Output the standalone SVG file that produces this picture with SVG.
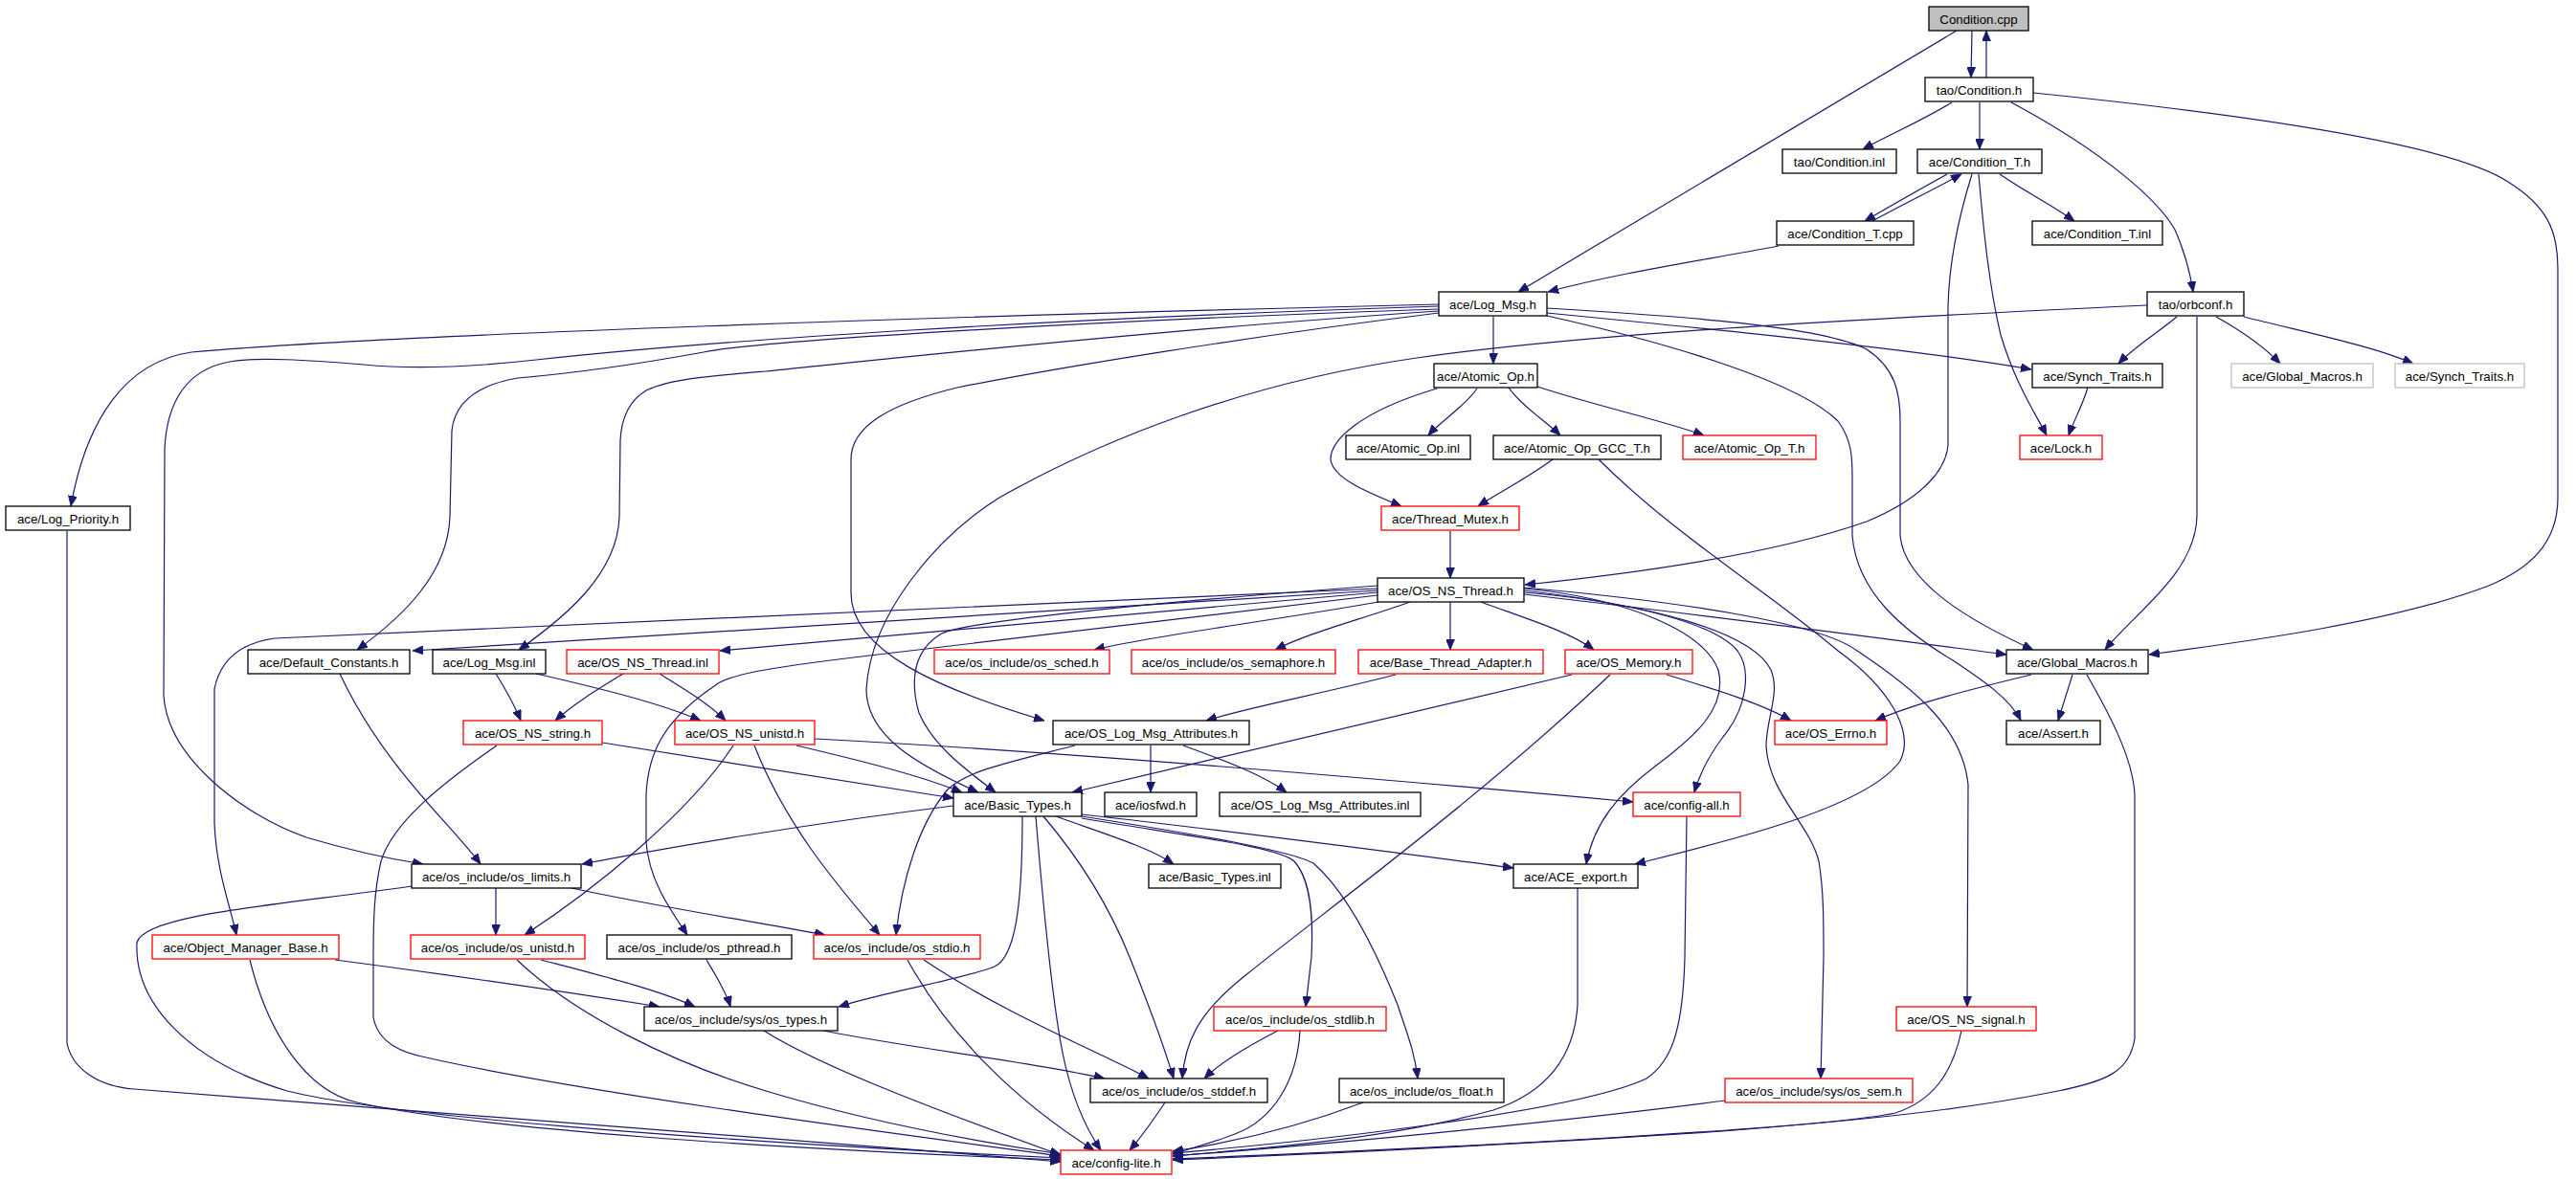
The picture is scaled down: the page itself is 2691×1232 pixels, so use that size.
<svg xmlns="http://www.w3.org/2000/svg" width="2691" height="1232" viewBox="0 0 2691 1232">
<style>
.nd rect{fill:#ffffff;stroke:#000000;stroke-width:1.3}
.nd.red rect{stroke:#ff0000}
.nd.grey rect{stroke:#bfbfbf}
.nd.root rect{fill:#bfbfbf}
.nd text{font-family:"Liberation Sans",Arial,sans-serif;font-size:13.3px;text-anchor:middle;fill:#000000}
#edges path{fill:none;stroke:#191970;stroke-width:1.2;marker-end:url(#ah)}
</style>
<defs>
<marker id="ah" markerUnits="userSpaceOnUse" markerWidth="11" markerHeight="9" refX="11" refY="4.5" orient="auto" viewBox="0 0 11 9">
<path d="M0,0 L11,4.5 L0,9 z" fill="#191970" stroke="#191970" stroke-width="0.8"/>
</marker>
</defs>
<rect x="0" y="0" width="2691" height="1232" fill="#ffffff"/>
<g id="edges">
<path d="M2060,32 L2059,81"/>
<path d="M2075,81 L2075,32"/>
<path d="M2044,32 L1586,305"/>
<path d="M2039,107 C2010,125 1975,140 1946,156"/>
<path d="M2068,107 L2068,156"/>
<path d="M2101,107 C2200,160 2255,210 2272,240 C2283,265 2288,285 2291,305"/>
<path d="M2124,97 C2350,120 2560,150 2620,190 C2660,215 2672,240 2672,280 L2672,520 C2672,570 2640,595 2600,612 C2500,650 2350,670 2245,684"/>
<path d="M2034,182 C2005,198 1975,215 1948,231"/>
<path d="M1956,231 C1985,215 2020,198 2049,182"/>
<path d="M2089,182 C2115,200 2145,215 2167,231"/>
<path d="M2067,182 C2072,240 2078,300 2090,350 C2105,400 2125,430 2138,455"/>
<path d="M2060,182 C2045,230 2036,280 2035,320 L2035,465 C2033,490 2010,520 1950,545 C1850,580 1700,600 1593,611"/>
<path d="M1858,257 C1780,272 1690,285 1617,305"/>
<path d="M2274,331 C2255,347 2230,362 2213,380"/>
<path d="M2315,331 C2340,345 2365,362 2382,380"/>
<path d="M2344,331 C2420,350 2480,362 2521,380"/>
<path d="M2295,331 L2295,540 C2293,600 2230,640 2199,679"/>
<path d="M2243,319 C1900,335 1650,350 1480,374 C1300,400 1150,460 1044,520 C980,560 910,640 905,720 C905,770 960,800 1022,828"/>
<path d="M1560,331 L1560,380"/>
<path d="M1616,327 C1800,345 2000,365 2122,386"/>
<path d="M1616,322 C1750,330 1900,340 1950,365 C1980,385 1985,410 1985,440 L1985,560 C1990,610 2060,650 2124,679"/>
<path d="M1616,330 C1750,360 1880,400 1920,440 C1935,460 1935,480 1935,500 L1935,560 C1940,620 1990,660 2040,690 C2070,710 2100,730 2111,753"/>
<path d="M1503,318 C1000,330 400,350 200,368 C130,378 90,440 74,529"/>
<path d="M1503,320 C1100,333 750,355 560,376 C480,385 420,385 380,381 C320,376 270,373 240,378 C195,386 174,420 172,470 L171,727 C175,790 250,850 320,875 C370,890 410,898 442,903"/>
<path d="M1503,323 C1150,335 800,355 735,368 C680,378 600,390 541,395 C500,402 475,420 472,450 L470,540 C468,600 420,645 373,679"/>
<path d="M1503,325 C1200,345 900,378 800,388 C740,393 700,396 675,408 C655,420 649,440 648,460 L647,540 C645,600 590,645 542,679"/>
<path d="M1503,327 C1300,352 1100,385 1000,405 C930,422 889,445 889,480 L889,620 C889,680 980,720 1091,753"/>
<path d="M1543,406 C1530,425 1505,440 1492,455"/>
<path d="M1576,405 C1590,425 1615,440 1630,455"/>
<path d="M1606,404 C1670,425 1740,440 1780,455"/>
<path d="M1501,406 C1420,430 1390,460 1390,480 C1392,500 1430,515 1464,529"/>
<path d="M1622,480 C1595,500 1565,515 1544,529"/>
<path d="M1670,480 C1750,560 1850,620 1920,680 C1975,720 2000,765 1985,795 C1950,845 1800,880 1708,903"/>
<path d="M1515,555 L1515,604"/>
<path d="M1440,629 C1320,650 1200,665 1143,679"/>
<path d="M1473,629 C1420,648 1370,660 1332,679"/>
<path d="M1515,629 L1515,679"/>
<path d="M1547,629 C1590,645 1640,660 1665,679"/>
<path d="M1592,621 C1800,645 1950,665 2096,684"/>
<path d="M1439,619 L752,680"/>
<path d="M1439,617 L431,680"/>
<path d="M1439,615 L287,667 C250,672 230,690 224,720 L224,860 C226,910 240,945 247,977"/>
<path d="M1439,622 L900,686 C800,698 760,705 746,717 C690,755 677,790 675,830 L675,880 C678,920 700,950 718,977"/>
<path d="M1439,612 C1200,630 1000,650 982,663 C955,680 950,710 960,745 C975,780 1010,805 1040,828"/>
<path d="M1592,617 C1700,630 1790,650 1815,680 C1830,700 1825,740 1800,770 C1785,790 1775,810 1770,828"/>
<path d="M1592,615 C1700,625 1780,660 1795,700 C1805,740 1770,770 1730,800 C1690,830 1665,860 1657,903"/>
<path d="M1592,619 C1720,630 1830,660 1850,700 C1860,725 1845,750 1845,780 C1848,830 1890,860 1900,900 C1905,930 1905,960 1905,1000 L1902,1127"/>
<path d="M1592,614 C1750,628 1900,650 1940,680 C2000,720 2050,760 2056,820 L2055,1052"/>
<path d="M1741,705 C1790,720 1840,735 1871,753"/>
<path d="M1642,705 C1500,740 1300,785 1120,828"/>
<path d="M1682,705 C1550,830 1400,940 1300,1020 C1250,1060 1238,1090 1235,1127"/>
<path d="M2122,705 C2060,720 2000,735 1959,753"/>
<path d="M2165,705 L2150,753"/>
<path d="M2180,705 C2200,740 2228,790 2230,830 L2230,1085 C2225,1120 2200,1130 2150,1140 C2050,1160 1950,1170 1800,1182 C1600,1195 1400,1205 1225,1212"/>
<path d="M1802,1150 C1650,1170 1400,1195 1225,1208"/>
<path d="M2049,1077 C2040,1120 2020,1150 1980,1163 C1900,1180 1500,1200 1225,1211"/>
<path d="M1762,853 L1760,1000 C1758,1080 1745,1110 1720,1127 C1650,1160 1400,1190 1225,1205"/>
<path d="M1648,928 L1648,1050 C1645,1100 1620,1140 1560,1160 C1450,1190 1320,1200 1225,1208"/>
<path d="M1424,1152 C1350,1180 1280,1195 1225,1203"/>
<path d="M1358,1077 C1355,1130 1330,1170 1290,1185 C1270,1193 1245,1200 1225,1206"/>
<path d="M1217,1152 C1205,1170 1195,1185 1180,1202"/>
<path d="M1082,853 C1090,950 1100,1050 1110,1100 C1120,1150 1135,1180 1150,1202"/>
<path d="M948,1003 C990,1080 1060,1150 1143,1202"/>
<path d="M965,1003 C1050,1060 1150,1100 1200,1127"/>
<path d="M860,1077 C950,1095 1080,1110 1154,1127"/>
<path d="M798,1077 C850,1110 950,1150 1108,1207"/>
<path d="M1068,853 C1068,950 1060,1000 1039,1010 C1000,1025 930,1035 876,1052"/>
<path d="M1090,853 C1130,900 1160,950 1180,1000 C1200,1050 1215,1090 1226,1127"/>
<path d="M1103,853 C1150,870 1200,885 1226,903"/>
<path d="M1130,855 C1250,875 1335,885 1352,900 C1370,920 1372,960 1370,1000 L1364,1052"/>
<path d="M1130,853 C1270,875 1350,890 1372,902 C1410,935 1440,1000 1460,1050 C1470,1080 1478,1100 1481,1127"/>
<path d="M1130,851 C1300,870 1450,890 1581,907"/>
<path d="M996,842 C850,860 700,885 608,903"/>
<path d="M1335,1077 C1300,1095 1275,1110 1258,1127"/>
<path d="M1202,779 L1202,828"/>
<path d="M1236,779 C1280,795 1320,810 1344,828"/>
<path d="M1123,779 C1060,795 1010,805 990,825 C960,860 942,920 936,977"/>
<path d="M1458,705 C1380,725 1300,740 1260,753"/>
<path d="M629,776 C780,800 900,818 996,834"/>
<path d="M519,779 C460,820 410,860 398,900 C391,930 390,960 390,1000 L390,1063 C395,1090 420,1100 445,1105 C600,1140 900,1180 1108,1208"/>
<path d="M832,779 C900,795 960,810 1005,828"/>
<path d="M851,772 C1100,785 1400,810 1706,838"/>
<path d="M766,779 C720,850 620,930 548,977"/>
<path d="M788,779 C820,860 870,920 919,977"/>
<path d="M651,704 C625,720 600,735 580,753"/>
<path d="M689,704 C715,720 740,735 758,753"/>
<path d="M518,704 C528,720 538,738 544,753"/>
<path d="M560,704 C630,720 690,735 732,753"/>
<path d="M355,704 C400,800 470,860 502,903"/>
<path d="M518,928 L518,977"/>
<path d="M597,928 C700,950 800,965 862,977"/>
<path d="M430,926 C300,945 150,955 143,985 C140,1050 200,1110 300,1140 C400,1165 700,1190 1108,1210"/>
<path d="M350,1003 C480,1020 600,1038 689,1052"/>
<path d="M261,1003 C280,1080 320,1140 373,1152 C500,1180 800,1200 1108,1212"/>
<path d="M565,1003 C630,1020 690,1035 726,1052"/>
<path d="M540,1003 C600,1060 700,1110 800,1140 C900,1170 1000,1190 1108,1206"/>
<path d="M738,1003 C748,1020 758,1035 763,1052"/>
<path d="M70,555 L70,1090 C75,1115 100,1135 140,1138 C250,1145 700,1180 1108,1214"/>
<path d="M2181,405 C2175,425 2166,440 2161,455"/>
</g>
<g id="n1" class="nd root"><rect x="2015" y="7" width="104" height="25"/><text x="2067" y="24.5">Condition.cpp</text></g>
<g id="n2" class="nd"><rect x="2011" y="81" width="113" height="25"/><text x="2067.5" y="98.5">tao/Condition.h</text></g>
<g id="n3" class="nd"><rect x="1862" y="156" width="119" height="25"/><text x="1921.5" y="173.5">tao/Condition.inl</text></g>
<g id="n4" class="nd"><rect x="2003" y="156" width="130" height="25"/><text x="2068" y="173.5">ace/Condition_T.h</text></g>
<g id="n5" class="nd"><rect x="1856" y="231" width="143" height="25"/><text x="1927.5" y="248.5">ace/Condition_T.cpp</text></g>
<g id="n6" class="nd"><rect x="2123" y="231" width="136" height="25"/><text x="2191" y="248.5">ace/Condition_T.inl</text></g>
<g id="n7" class="nd"><rect x="1503" y="305" width="113" height="25"/><text x="1559.5" y="322.5">ace/Log_Msg.h</text></g>
<g id="n8" class="nd"><rect x="2243" y="305" width="101" height="25"/><text x="2293.5" y="322.5">tao/orbconf.h</text></g>
<g id="n9" class="nd"><rect x="1498" y="380" width="108" height="25"/><text x="1552" y="397.5">ace/Atomic_Op.h</text></g>
<g id="n10" class="nd"><rect x="2123" y="380" width="136" height="25"/><text x="2191" y="397.5">ace/Synch_Traits.h</text></g>
<g id="n11" class="nd grey"><rect x="2331" y="380" width="148" height="25"/><text x="2405" y="397.5">ace/Global_Macros.h</text></g>
<g id="n12" class="nd grey"><rect x="2502" y="380" width="135" height="25"/><text x="2569.5" y="397.5">ace/Synch_Traits.h</text></g>
<g id="n13" class="nd"><rect x="1406" y="455" width="130" height="25"/><text x="1471" y="472.5">ace/Atomic_Op.inl</text></g>
<g id="n14" class="nd"><rect x="1560" y="455" width="175" height="25"/><text x="1647.5" y="472.5">ace/Atomic_Op_GCC_T.h</text></g>
<g id="n15" class="nd red"><rect x="1758" y="455" width="139" height="25"/><text x="1827.5" y="472.5">ace/Atomic_Op_T.h</text></g>
<g id="n16" class="nd red"><rect x="2110" y="455" width="86" height="25"/><text x="2153" y="472.5">ace/Lock.h</text></g>
<g id="n17" class="nd"><rect x="6" y="529" width="130" height="25"/><text x="71" y="546.5">ace/Log_Priority.h</text></g>
<g id="n18" class="nd red"><rect x="1443" y="529" width="144" height="25"/><text x="1515" y="546.5">ace/Thread_Mutex.h</text></g>
<g id="n19" class="nd"><rect x="1439" y="604" width="153" height="25"/><text x="1515.5" y="621.5">ace/OS_NS_Thread.h</text></g>
<g id="n20" class="nd"><rect x="259" y="679" width="169" height="25"/><text x="343.5" y="696.5">ace/Default_Constants.h</text></g>
<g id="n21" class="nd"><rect x="452" y="679" width="118" height="25"/><text x="511" y="696.5">ace/Log_Msg.inl</text></g>
<g id="n22" class="nd red"><rect x="592" y="679" width="159" height="25"/><text x="671.5" y="696.5">ace/OS_NS_Thread.inl</text></g>
<g id="n23" class="nd red"><rect x="976" y="679" width="183" height="25"/><text x="1067.5" y="696.5">ace/os_include/os_sched.h</text></g>
<g id="n24" class="nd red"><rect x="1182" y="679" width="213" height="25"/><text x="1288.5" y="696.5">ace/os_include/os_semaphore.h</text></g>
<g id="n25" class="nd red"><rect x="1419" y="679" width="193" height="25"/><text x="1515.5" y="696.5">ace/Base_Thread_Adapter.h</text></g>
<g id="n26" class="nd red"><rect x="1635" y="679" width="133" height="25"/><text x="1701.5" y="696.5">ace/OS_Memory.h</text></g>
<g id="n27" class="nd"><rect x="2096" y="679" width="148" height="25"/><text x="2170" y="696.5">ace/Global_Macros.h</text></g>
<g id="n28" class="nd red"><rect x="484" y="753" width="145" height="25"/><text x="556.5" y="770.5">ace/OS_NS_string.h</text></g>
<g id="n29" class="nd red"><rect x="705" y="753" width="146" height="25"/><text x="778" y="770.5">ace/OS_NS_unistd.h</text></g>
<g id="n30" class="nd"><rect x="1100" y="753" width="205" height="25"/><text x="1202.5" y="770.5">ace/OS_Log_Msg_Attributes.h</text></g>
<g id="n31" class="nd red"><rect x="1854" y="753" width="117" height="25"/><text x="1912.5" y="770.5">ace/OS_Errno.h</text></g>
<g id="n32" class="nd"><rect x="2096" y="753" width="98" height="25"/><text x="2145" y="770.5">ace/Assert.h</text></g>
<g id="n33" class="nd"><rect x="996" y="828" width="134" height="25"/><text x="1063" y="845.5">ace/Basic_Types.h</text></g>
<g id="n34" class="nd"><rect x="1154" y="828" width="96" height="25"/><text x="1202" y="845.5">ace/iosfwd.h</text></g>
<g id="n35" class="nd"><rect x="1274" y="828" width="210" height="25"/><text x="1379" y="845.5">ace/OS_Log_Msg_Attributes.inl</text></g>
<g id="n36" class="nd red"><rect x="1706" y="828" width="112" height="25"/><text x="1762" y="845.5">ace/config-all.h</text></g>
<g id="n37" class="nd"><rect x="430" y="903" width="177" height="25"/><text x="518.5" y="920.5">ace/os_include/os_limits.h</text></g>
<g id="n38" class="nd"><rect x="1200" y="903" width="138" height="25"/><text x="1269" y="920.5">ace/Basic_Types.inl</text></g>
<g id="n39" class="nd"><rect x="1581" y="903" width="130" height="25"/><text x="1646" y="920.5">ace/ACE_export.h</text></g>
<g id="n40" class="nd red"><rect x="159" y="977" width="195" height="25"/><text x="256.5" y="994.5">ace/Object_Manager_Base.h</text></g>
<g id="n41" class="nd red"><rect x="429" y="977" width="182" height="25"/><text x="520" y="994.5">ace/os_include/os_unistd.h</text></g>
<g id="n42" class="nd"><rect x="634" y="977" width="193" height="25"/><text x="730.5" y="994.5">ace/os_include/os_pthread.h</text></g>
<g id="n43" class="nd red"><rect x="850" y="977" width="174" height="25"/><text x="937" y="994.5">ace/os_include/os_stdio.h</text></g>
<g id="n44" class="nd"><rect x="673" y="1052" width="202" height="25"/><text x="774" y="1069.5">ace/os_include/sys/os_types.h</text></g>
<g id="n45" class="nd red"><rect x="1268" y="1052" width="180" height="25"/><text x="1358" y="1069.5">ace/os_include/os_stdlib.h</text></g>
<g id="n46" class="nd red"><rect x="1981" y="1052" width="146" height="25"/><text x="2054" y="1069.5">ace/OS_NS_signal.h</text></g>
<g id="n47" class="nd"><rect x="1139" y="1127" width="185" height="25"/><text x="1231.5" y="1144.5">ace/os_include/os_stddef.h</text></g>
<g id="n48" class="nd"><rect x="1399" y="1127" width="172" height="25"/><text x="1485" y="1144.5">ace/os_include/os_float.h</text></g>
<g id="n49" class="nd red"><rect x="1802" y="1127" width="196" height="25"/><text x="1900" y="1144.5">ace/os_include/sys/os_sem.h</text></g>
<g id="n50" class="nd red"><rect x="1108" y="1202" width="116" height="25"/><text x="1166" y="1219.5">ace/config-lite.h</text></g>
</svg>
